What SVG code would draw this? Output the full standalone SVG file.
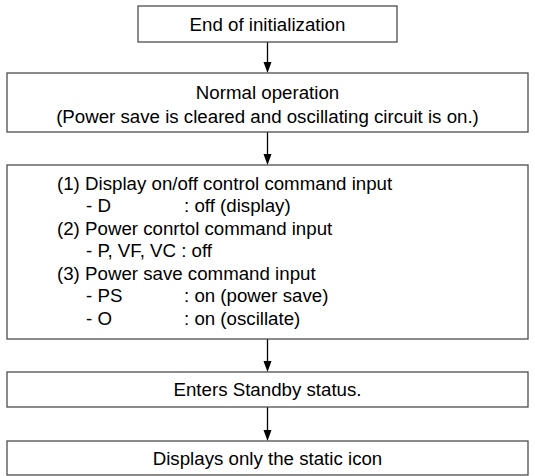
<svg xmlns="http://www.w3.org/2000/svg" width="535" height="476" viewBox="0 0 535 476">
<style>
.box{fill:#fff;stroke:#4d4d4d;stroke-width:1.3}
.t{font-family:"Liberation Sans",Arial,sans-serif;font-size:18.7px;fill:#000}
.c{text-anchor:middle}
.ln{stroke:#000;stroke-width:1.3;fill:none}
.ah{fill:#000}
</style>
<rect width="535" height="476" fill="#fff"/>
<g id="connectors">
<line class="ln" x1="267.5" y1="42" x2="267.5" y2="64"/>
<path class="ah" d="M263.5,62 L271.5,62 L267.5,73 Z"/>
<line class="ln" x1="267.5" y1="132" x2="267.5" y2="156"/>
<path class="ah" d="M263.5,154 L271.5,154 L267.5,165 Z"/>
<line class="ln" x1="267.5" y1="339" x2="267.5" y2="363"/>
<path class="ah" d="M263.5,361 L271.5,361 L267.5,372 Z"/>
<line class="ln" x1="267.5" y1="407" x2="267.5" y2="432"/>
<path class="ah" d="M263.5,430 L271.5,430 L267.5,441 Z"/>
</g>
<g id="n1">
<rect class="box" x="138" y="6" width="259" height="36"/>
<text class="t c" x="267.5" y="30.5">End of initialization</text>
</g>
<g id="n2">
<rect class="box" x="7" y="73" width="521" height="59"/>
<text class="t c" x="267.5" y="99">Normal operation</text>
<text class="t c" x="267.5" y="123">(Power save is cleared and oscillating circuit is on.)</text>
</g>
<g id="n3">
<rect class="box" x="7" y="165" width="521" height="174"/>
<text class="t" x="57" y="189.5">(1) Display on/off control command input</text>
<text class="t" x="86" y="212">- D</text>
<text class="t" x="184" y="212">: off (display)</text>
<text class="t" x="57" y="234.5">(2) Power conrtol command input</text>
<text class="t" x="86" y="257">- P, VF, VC : off</text>
<text class="t" x="57" y="279.5">(3) Power save command input</text>
<text class="t" x="86" y="302">- PS</text>
<text class="t" x="184" y="302">: on (power save)</text>
<text class="t" x="86" y="324.5">- O</text>
<text class="t" x="184" y="324.5">: on (oscillate)</text>
</g>
<g id="n4">
<rect class="box" x="7" y="372" width="521" height="35"/>
<text class="t c" x="267.5" y="396">Enters Standby status.</text>
</g>
<g id="n5">
<rect class="box" x="7" y="441" width="521" height="34"/>
<text class="t c" x="267.5" y="464.5">Displays only the static icon</text>
</g>
</svg>
